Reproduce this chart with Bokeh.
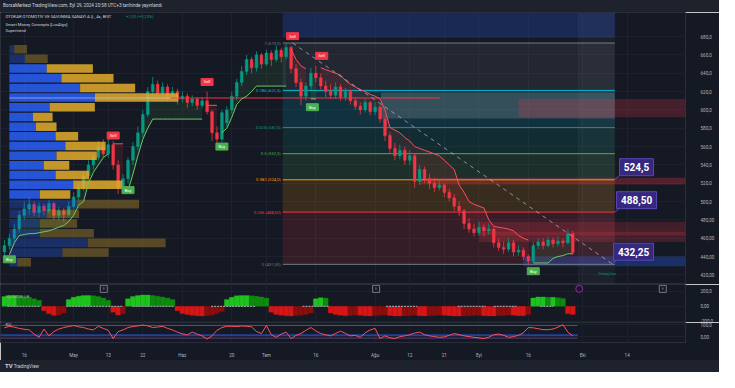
from bokeh.plotting import figure
from bokeh.models import Range1d, FixedTicker, Label, Div
from bokeh.layouts import column
from bokeh.embed import file_html
from bokeh.resources import INLINE
from bokeh.core.properties import value

# ---------------- data ----------------
# trading-day index of first candle (index 0 = 16 Nis 2024)
first_bar = -4
opens = [445, 452, 460, 470,
         485, 492, 497, 488, 495, 490, 498, 485, 490, 486,
         495, 505, 515, 528, 540, 548, 560, 552, 562, 540,
         515, 525, 545, 560, 575, 595, 620, 628, 618, 625,
         615, 620, 612, 615, 608, 612, 605, 610, 598, 575,
         568, 586, 600, 615, 630, 642, 655, 646, 660, 650,
         662, 655, 665, 658, 668, 645, 630, 615, 626, 640,
         635, 626, 620, 616, 625, 614, 620, 610, 604, 600,
         608, 598, 603, 590, 572, 558, 550, 556, 545, 550,
         522, 535, 525, 520, 515, 518, 510, 504, 495, 490,
         476, 470, 466, 472, 468, 470, 455, 450, 448, 455,
         445, 447, 440, 435, 452, 456, 452, 458, 454, 457,
         455, 465]
highs = [458, 465, 476, 490,
         500, 505, 500, 499, 498, 502, 500, 494, 493, 500,
         510, 520, 532, 545, 552, 566, 568, 570, 566, 545,
         530, 548, 565, 582, 600, 625, 636, 632, 630, 628,
         625, 623, 620, 618, 616, 614, 614, 620, 600, 582,
         600, 604, 620, 634, 648, 660, 658, 664, 662, 666,
         665, 670, 668, 673, 670, 650, 634, 630, 646, 648,
         640, 632, 628, 630, 628, 624, 622, 614, 608, 612,
         610, 608, 606, 594, 576, 564, 562, 560, 556, 552,
         540, 538, 530, 526, 524, 520, 514, 508, 500, 492,
         482, 476, 478, 475, 476, 472, 460, 456, 460, 458,
         452, 450, 442, 456, 460, 460, 462, 461, 462, 460,
         470, 468]
lows = [440, 448, 455, 466,
        480, 486, 484, 483, 485, 487, 480, 480, 478, 484,
        492, 502, 512, 524, 535, 545, 548, 548, 535, 508,
        510, 520, 540, 556, 570, 592, 614, 612, 614, 610,
        612, 606, 608, 602, 604, 600, 602, 595, 566, 562,
        565, 582, 596, 610, 626, 638, 640, 642, 645, 648,
        648, 652, 652, 655, 640, 625, 605, 610, 622, 630,
        622, 614, 612, 612, 610, 610, 606, 600, 595, 597,
        594, 594, 586, 566, 552, 545, 546, 540, 540, 515,
        518, 520, 514, 510, 512, 505, 500, 490, 484, 470,
        466, 462, 463, 462, 464, 450, 446, 443, 445, 440,
        441, 436, 431.5, 433, 448, 448, 450, 450, 451, 450,
        453, 442]
closes = [452, 460, 470, 485,
          492, 497, 488, 495, 490, 498, 485, 490, 486, 495,
          505, 515, 528, 540, 548, 560, 552, 562, 540, 515,
          525, 545, 560, 575, 595, 620, 628, 618, 625, 615,
          620, 612, 615, 608, 612, 605, 610, 598, 575, 568,
          597, 600, 615, 630, 642, 655, 646, 660, 650, 662,
          655, 665, 658, 668, 645, 630, 615, 626, 640, 635,
          626, 620, 616, 625, 614, 620, 610, 604, 600, 608,
          598, 603, 590, 572, 558, 550, 556, 545, 550, 522,
          535, 525, 520, 515, 518, 510, 504, 495, 490, 476,
          470, 466, 472, 468, 470, 455, 450, 448, 455, 445,
          447, 440, 435, 452, 456, 452, 458, 454, 457, 455,
          465, 444.5]

date_tick_idx = [0, 10, 17, 24, 32, 42, 49, 59, 71, 78, 85, 92, 102, 113, 122]
date_tick_labels = ["16", "May", "13", "22", "Haz", "20", "Tem", "16", "Ağu",
                    "12", "21", "Eyl", "16", "Eki", "14"]
edge_tick_idx = 134.8
edge_tick_label = "K"
price_ticks = [420, 440, 460, 480, 500, 520, 540, 560, 580, 600, 620, 640, 660, 680]
price_tick_labels = ["420,00", "440,00", "460,00", "480,00", "500,0", "520,0", "540,0",
                     "560,0", "580,0", "600,0", "620,0", "640,0", "660,0", "680,0"]

# Supertrend segments: (start index, values)
st_up_segments = [
    (-3, [442, 455, 463, 464, 465, 465, 466, 467, 468, 470, 472, 474, 478, 485, 496, 500,
          520, 532, 540, 548, 552]),
    (21, [512, 530, 550, 568, 580, 590, 590, 590, 590, 590, 590, 590, 590, 590, 590, 590]),
    (40, [575, 580, 592, 606, 612, 615, 620, 626, 626, 626, 626, 626, 626, 626]),
    (58, [612, 612]),
    (103, [433, 433, 433, 433, 438, 440, 441, 443, 443]),
]
st_dn_segments = [
    (18, [563, 563, 563]),
    (37, [605, 605, 605]),
    (54, [666, 655, 648, 645]),
    (60, [646, 644, 642, 640, 638, 632, 628, 625, 622, 620, 617, 615, 612, 600, 581, 578,
          575, 570, 566, 560, 558, 556, 554, 552, 550, 545, 540, 535, 518, 510, 500, 497,
          495, 493, 480, 473, 472, 471, 470, 468, 463, 460, 458]),
]
sig_idx = [-3, 18, 21, 37, 40, 54.3, 58.3, 60.2, 103]
sig_price = [437, 572, 512.5, 630.5, 560, 680.5, 603, 659, 424]
sig_type = ["Buy", "Sell", "Buy", "Sell", "Buy", "Sell", "Buy", "Sell", "Buy"]

# Volume profile rows, top to bottom
vp_top_price = 671.6
vp_row_step = 10.57
vp_up = [5, 16, 38, 53, 72, 87, 41, 24, 27, 47, 57, 48, 35, 47, 65, 31, 69, 38, 31, 31, 80, 54, 8]
vp_dn = [13, 23, 47, 53, 56, 85, 46, 20, 21, 23, 41, 41, 26, 34, 50, 31, 63, 33, 38, 55, 79, 47, 14]
vp_in_va = [0, 0, 1, 1, 1, 1, 1, 1, 1, 1, 1, 1, 1, 1, 1, 1, 0, 0, 0, 0, 0, 0, 0]
poc_price = 613.0

# Fibonacci retracement
fib_low, fib_high = 431.5, 673.0
fib_start_idx, fib_end_idx = 52.3, 119.5
fib_ratios = [0, 0.236, 0.382, 0.5, 0.618, 0.786, 1]
fib_labels = ["0 (431,50)", "0.236 (488,50)", "0.382 (524,0)", "0.5 (552,5)",
              "0.618 (581,0)", "0.786 (621,5)", "1 (673,0)"]
fib_colors = ["#787b86", "#f23645", "#ff9800", "#4caf50", "#089981", "#00bcd4", "#787b86"]

trend_idx = [54.3, 118.9]
trend_price = [673.0, 432.25]
callout_text = ["524,5", "488,50", "432,25"]
callout_price = [524.5, 488.5, 432.25]
callout_anchor_idx = [119.5, 119.5, 118.9]

# Order blocks / zones
ob_left = [72.2, 100.0, 80.0, 92.0, 92.0, 101.0]
ob_right = [119.5, 133.8, 133.8, 133.8, 133.8, 133.8]
ob_bottom = [590.5, 592.0, 518.5, 463.0, 456.0, 429.5]
ob_top = [619.0, 612.0, 526.0, 478.0, 467.0, 440.0]
ob_color = ["#b2b5be", "#f23645", "#f23645", "#f23645", "#f23645", "#2962ff"]
ob_alpha = [0.22, 0.22, 0.28, 0.2, 0.2, 0.3]

# Squeeze momentum
sqz = [130, 140, 140, 135, 130, 120, 100, 80,
       -60, -100, -120, -115, -90,
       90, 120, 135, 145, 145, 140, 130, 110, 80,
       -80, -115, -100,
       100, 130, 145, 150, 150, 145, 135, 125, 110, 90,
       -60, -95, -110, -120, -125, -130, -125, -115, -95, -70,
       90, 120, 140, 145, 145, 140, 135, 125, 110,
       -80, -110, -120, -125, -130, -125, -120, -110, -90,
       100, 115, 110,
       -90, -110, -120, -125, -122, -118, -120, -125, -128, -125, -120, -115, -122, -128,
       -130, -128, -124, -120, -125, -128, -126, -122, -118, -120, -124, -128, -130, -128,
       -125, -122, -120, -124, -127, -129, -126, -122, -118, -120, -124, -126, -110,
       110, 125, 125, 120, 120, 115, 105,
       -100, -110]
sqz_on_start = [-3.4, 8.5, 21.9, 37.8, 56.3, 73.2, 87.7, 95.0, 104.4]
sqz_on_end = [3.2, 20.0, 30.4, 46.9, 61.6, 79.5, 93.4, 99.6, 107.0]
event_idx = [16.1, 71.2, 112.3, 129.2]
event_kind = ["E", "E", "D", "E"]

# Oscillator
osc = [70, 82, 75, 65, 58, 53, 20, -6, 60, 6, 40, 60, 72, 80, 88, 78, 72, 60, 53, 82,
       65, 50, -16, 40, 53, 72, 80, 85, 92, 85, 72, 76, 82, 65, 53, 35, 22, 14, 35, 20,
       6, -20, 6, 50, 72, 82, 82, 80, 84, 82, 78, 40, 24, 88, 14, -6, 20, 35, -16, 10,
       24, 50, 72, 45, 24, 14, 6, 25, 43, 25, 6, 10, -6, 30, 53, 65, -16, 6, -10, -16,
       0, 6, 15, 28, 35, 15, 6, 0, -6, -2, 10, 24, 15, 6, 0, -6, -10, -16, -5, 15,
       20, 10, -6, 0, 10, 30, 72, 70, 62, 55, 55, 60, 75, 94, 35, 6]
osc_levels = [88, 12, -12]
osc_level_colors = ["#8a3a46", "#2962ff", "#5b3a8a"]

# ---------------- style ----------------
BG = "#151924"
GRID = "#1d212d"
AXC = "#b2b5be"
TXT = "#d1d4dc"
FONT = "Roboto"
UP = "#089981"
DN = "#f23645"
W = 719
AXW = 34

xr = Range1d(-4.8, 133.8)


def base_fig(h, yr, ticks, labels, show_x=False, bottom=0):
    f = figure(width=W, height=h, x_range=xr, y_range=yr, output_backend="svg",
               toolbar_location=None, x_axis_location=("below" if show_x else None),
               y_axis_location="right", background_fill_color=BG, border_fill_color=BG,
               outline_line_color="#2a2e39", min_border_left=0, min_border_right=AXW,
               min_border_top=0, min_border_bottom=bottom)
    f.xgrid.ticker = FixedTicker(ticks=date_tick_idx)
    f.xgrid.grid_line_color = GRID
    f.ygrid.ticker = FixedTicker(ticks=ticks)
    f.ygrid.grid_line_color = GRID
    ya = f.yaxis[0]
    ya.ticker = FixedTicker(ticks=ticks)
    ya.major_label_overrides = {t: l for t, l in zip(ticks, labels)}
    ya.axis_line_color = None
    ya.major_tick_line_color = None
    ya.minor_tick_line_color = None
    ya.major_label_text_color = AXC
    ya.major_label_text_font_size = "4.6px"
    ya.major_label_text_font = FONT
    ya.major_label_standoff = 9
    return f


# ---------------- main chart ----------------
p = base_fig(272, Range1d(409.5, 706.3), price_ticks, price_tick_labels)
p.extra_x_ranges = {"vp": Range1d(-9, 688)}

n = len(closes)
xs = [first_bar + i for i in range(n)]

# premium zone (top) and fib zones
p.quad(left=[fib_start_idx], right=[fib_end_idx], bottom=[679.0], top=[706.3],
       fill_color="#2962ff", fill_alpha=0.22, line_color=None)
levels = [fib_low + r * (fib_high - fib_low) for r in fib_ratios]
p.quad(left=[fib_start_idx] * 6, right=[fib_end_idx] * 6, bottom=levels[:-1], top=levels[1:],
       fill_color=fib_colors[1:], fill_alpha=0.15, line_color=None)
# future column highlight
p.quad(left=[xs[-1] + 1.0], right=[fib_end_idx], bottom=[409.5], top=[706.3],
       fill_color="#ffffff", fill_alpha=0.035, line_color=None)
# order blocks
p.quad(left=ob_left, right=ob_right, bottom=ob_bottom, top=ob_top,
       fill_color=ob_color, fill_alpha=ob_alpha, line_color=None)

for lv, col in zip(levels, fib_colors):
    p.line([fib_start_idx, fib_end_idx], [lv, lv], line_color=col, line_width=1)
p.text(x=[fib_start_idx - 0.4] * 7, y=levels, text=fib_labels, text_color=fib_colors,
       text_font=value(FONT), text_font_size="4.2px", text_align="right", text_baseline="middle")

# supertrend fills
mids = [(o + c) / 2 for o, c in zip(opens, closes)]
for segs, col in ((st_up_segments, "#4caf50"), (st_dn_segments, "#f23645")):
    for start, vals in segs:
        sx = list(range(start, start + len(vals)))
        my = [mids[i - first_bar] for i in sx]
        if len(sx) > 1:
            p.varea(x=sx, y1=vals, y2=my, fill_color=col, fill_alpha=0.12)

# candles
ccol = [UP if c >= o else DN for o, c in zip(opens, closes)]
p.segment(x0=xs, y0=highs, x1=xs, y1=lows, line_color=ccol, line_width=0.8)
p.vbar(x=xs, top=[max(o, c) for o, c in zip(opens, closes)],
       bottom=[min(o, c) for o, c in zip(opens, closes)], width=0.55,
       fill_color=ccol, line_color=ccol, line_width=0.5)

# volume profile
centers = [vp_top_price - (i + 0.5) * vp_row_step for i in range(len(vp_up))]
ends = [u + d for u, d in zip(vp_up, vp_dn)]
b_alpha = [0.82 if v else 0.3 for v in vp_in_va]
g_alpha = [0.85 if v else 0.32 for v in vp_in_va]
p.hbar(y=centers, left=0, right=vp_up, height=vp_row_step * 0.88, x_range_name="vp",
       fill_color="#2962ff", fill_alpha=b_alpha, line_color=None)
p.hbar(y=centers, left=vp_up, right=ends, height=vp_row_step * 0.88, x_range_name="vp",
       fill_color="#e3ad2c", fill_alpha=g_alpha, line_color=None)
poc_row = max(range(len(ends)), key=lambda i: ends[i])
p.line([0, ends[poc_row]], [poc_price, poc_price], x_range_name="vp",
       line_color="#c8ccff", line_alpha=0.6, line_width=1)
p.line([29.6, 84.1], [poc_price, poc_price], line_color="#f23645", line_width=1)

# supertrend lines
for segs, col in ((st_up_segments, "#6cc865"), (st_dn_segments, "#f7525f")):
    for start, vals in segs:
        sx = list(range(start, start + len(vals)))
        p.line(sx, vals, line_color=col, line_width=1)

# trend line
p.line(trend_idx, trend_price, line_color="#d1d4dc", line_alpha=0.6, line_dash="4 4",
       line_width=1)

# signals
for typ, col in (("Buy", "#4caf50"), ("Sell", "#f23645")):
    sx = [sig_idx[i] for i in range(len(sig_idx)) if sig_type[i] == typ]
    sy = [sig_price[i] for i in range(len(sig_idx)) if sig_type[i] == typ]
    p.rect(x=sx, y=sy, width=12, height=7, width_units="screen", height_units="screen",
           fill_color=col, line_color=col)
    p.text(x=sx, y=sy, text=[typ] * len(sx), text_color="white", text_font=value(FONT),
           text_font_size="4px", text_align="center", text_baseline="middle")

# callouts
cx = [a + 4.4 for a in callout_anchor_idx]
cy = [pr + 13 for pr in callout_price]
p.segment(x0=callout_anchor_idx, y0=callout_price, x1=[a + 1.8 for a in callout_anchor_idx],
          y1=[pr + 7.5 for pr in callout_price], line_color="#5a47b5", line_width=1)
p.rect(x=cx, y=cy, width=[34, 40, 40], height=17, width_units="screen", height_units="screen",
       fill_color="#36277f", line_color="#5a47b5", line_width=1)
p.text(x=cx, y=cy, text=callout_text, text_color="white", text_font=value(FONT),
       text_font_style="bold", text_font_size="10px", text_align="center",
       text_baseline="middle")

p.text(x=[118.0], y=[421.0], text=["Strong Low"], text_color="#089981",
       text_font=value(FONT), text_font_size="3.5px", text_align="center",
       text_baseline="middle")

# legend
legend_rows = ["OTOKAR OTOMOTİV VE SAVUNMA SANAYİ A.Ş., 4s, BIST",
               "Smart Money Concepts [LuxAlgo]", "Supertrend"]
for txt, yy in zip(legend_rows, [702.1, 693.7, 686.3]):
    p.add_layout(Label(x=-3.8, y=yy, text=txt, text_color=TXT, text_font=FONT,
                       text_font_size="4.2px", text_baseline="middle"))
p.add_layout(Label(x=20.6, y=702.1, text="+1,00 (+0,23%)", text_color="#089981",
                   text_font=FONT, text_font_size="4.2px", text_baseline="middle"))

p.add_layout(Label(x=137.6, y=closes[-1], text="444,50", text_color="white",
                   text_font=FONT, text_font_size="4.6px", text_align="center",
                   text_baseline="middle", background_fill_color="#089981", padding=2))
p.add_layout(Label(x=137.6, y=702.0, text="TRY", text_color=AXC, text_font=FONT,
                   text_font_size="4.2px", text_align="center", text_baseline="middle",
                   border_line_color="#434651", padding=2))

# ---------------- squeeze panel ----------------
q = base_fig(38, Range1d(-215, 290), [200, 0, -200], ["200,0", "0,00", "-200,0"])
scol = []
for i, v in enumerate(sqz):
    prev = sqz[i - 1] if i > 0 else v
    if v >= 0:
        scol.append("#1ec41e" if v >= prev else "#0e8a0e")
    else:
        scol.append("#d41616" if v <= prev else "#8a0e0e")
q.vbar(x=xs, top=sqz, width=1.0, fill_color=scol, line_color=scol, line_width=0.3)
q.segment(x0=sqz_on_start, y0=[0] * len(sqz_on_start), x1=sqz_on_end,
          y1=[0] * len(sqz_on_start), line_color="#9598a1", line_width=1.2, line_dash="2 1")
ecol = ["#787b86" if k == "E" else "#9c27b0" for k in event_kind]
emk = ["square" if k == "E" else "circle" for k in event_kind]
q.scatter(x=event_idx, y=[232] * 4, marker=emk, size=7, fill_color=BG, line_color=ecol,
          line_width=1)
q.text(x=event_idx, y=[232] * 4, text=["E", "E", "", "E"], text_color=ecol,
       text_font=value(FONT), text_font_size="4px", text_align="center",
       text_baseline="middle")
q.add_layout(Label(x=-3.8, y=125, text="SQZMOM_LB", text_color=AXC, text_font=FONT,
                   text_font_size="4px", text_baseline="middle"))

# ---------------- oscillator panel ----------------
r = base_fig(38, Range1d(-47, 112), [0, 100], ["0,00", "100,0"], show_x=True, bottom=12)
for lv, col in zip(osc_levels, osc_level_colors):
    r.line([-4.8, xs[-1] + 1], [lv, lv], line_color=col, line_width=1)
r.line(xs, osc, line_color="#f7525f", line_width=1)
r.add_layout(Label(x=-3.8, y=95, text="RSI", text_color=AXC, text_font=FONT,
                   text_font_size="4px", text_baseline="middle"))
xa = r.xaxis[0]
xa.ticker = FixedTicker(ticks=date_tick_idx)
xa.major_label_overrides = {t: l for t, l in zip(date_tick_idx, date_tick_labels)}
xa.axis_line_color = None
xa.major_tick_line_color = None
xa.minor_tick_line_color = None
xa.major_label_text_color = AXC
xa.major_label_text_font_size = "4.6px"
xa.major_label_text_font = FONT
xa.major_label_standoff = 4
r.add_layout(Label(x=edge_tick_idx, y=-87, text=edge_tick_label, text_color=AXC,
                   text_font=FONT, text_font_size="4.6px", text_align="center",
                   text_baseline="middle"))

header = Div(text=('<div style="padding-left:3px;line-height:12px;">BorsaMerkezi '
                   'TradingView.com, Eyl 29, 2024 20:58 UTC+3 tarihinde yayınlandı</div>'),
             width=W, height=12, margin=(0, 0, 0, 0),
             styles={"background-color": "#1e222d", "color": TXT, "font-size": "4.6px",
                     "font-family": FONT})
footer = Div(text=('<div style="padding-left:5px;line-height:12px;">'
                   '<b style="font-size:6px">TV</b> TradingView</div>'),
             width=W, height=12, margin=(0, 0, 0, 0),
             styles={"background-color": "#1e222d", "color": TXT, "font-size": "4.6px",
                     "font-family": FONT})

layout = column(header, p, q, r, footer, spacing=0)
open("out.html", "w").write(file_html(layout, INLINE))
